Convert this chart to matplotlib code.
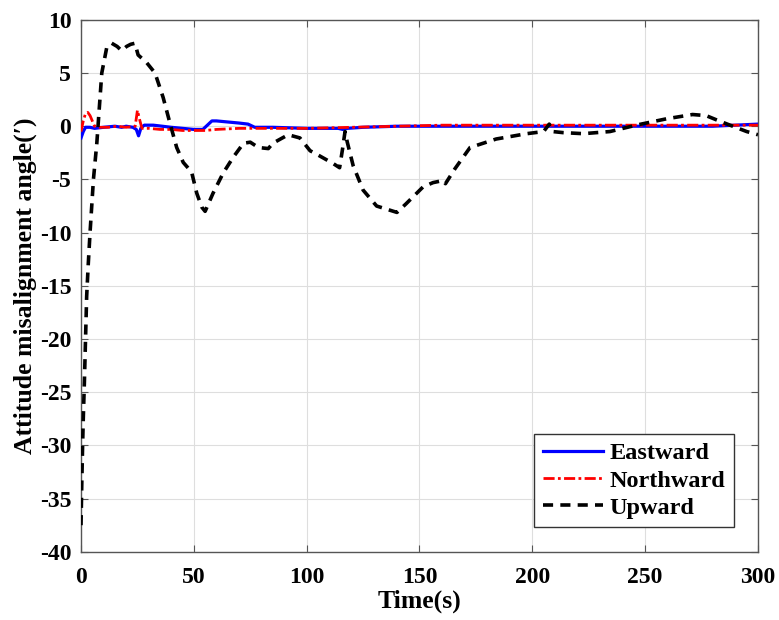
import matplotlib
matplotlib.use("Agg")
import matplotlib.pyplot as plt

# ---------------- data ----------------
t_up = [0, 0.3, 0.7, 1.0, 1.5, 2.0, 2.5, 3.2, 4.0, 5.5, 7, 9.2, 11.4, 13.6, 16, 18, 20.2, 22,
        23.9, 25.3, 29, 32.8, 36.4, 39.4, 42.4, 45.3, 49, 51.3, 53.5, 55, 58.5, 63, 67.5, 72,
        75, 78.6, 83, 85, 91.8, 97, 101.5, 105, 111.7, 114.6, 116, 117, 118, 120.6, 125, 131,
        140, 144, 151.6, 156, 160.5, 161.5, 165.7, 172.4, 184, 197.5, 205, 207.5, 209, 213.6,
        222.6, 234.4, 246, 259.5, 271, 277, 281.6, 287.6, 295, 300]
upward = [-37.5, -34, -30, -27.5, -24, -20, -16, -13, -10, -5, -1.6, 5, 7.4, 7.8, 7.5, 7.1,
          7.5, 7.7, 7.8, 6.7, 6.0, 5.0, 2.7, 0.3, -2, -3.4, -4.3, -6.3, -7.6, -8.0, -6.3, -4.4,
          -2.9, -1.6, -1.5, -2, -2.1, -1.6, -0.8, -1.1, -2.3, -2.7, -3.5, -3.9, -2.0, -0.5,
          -1.5, -3.7, -6, -7.5, -8.1, -7.3, -5.7, -5.3, -5.1, -5.4, -4, -2, -1.2, -0.7, -0.5,
          0.2, -0.5, -0.6, -0.7, -0.5, 0.1, 0.7, 1.1, 1.0, 0.6, 0.1, -0.5, -0.8]

t_east = [0, 1, 2, 4, 6, 10, 15, 18, 20, 23, 24.5, 25.5, 26.5, 28, 32, 36, 40, 45, 50, 54,
          56, 58, 60, 65, 70, 74, 77, 85, 100, 110, 114, 116, 118, 125, 140, 200, 250, 280, 300]
eastward = [-1.1, -0.5, -0.1, -0.1, -0.2, -0.1, 0.0, -0.1, 0.0, -0.1, -0.3, -0.9, -0.2, 0.1,
            0.1, 0.0, -0.1, -0.2, -0.3, -0.3, 0.1, 0.5, 0.5, 0.4, 0.3, 0.2, -0.1, -0.1, -0.2,
            -0.2, -0.2, -0.3, -0.2, -0.1, 0.0, 0.0, 0.0, 0.0, 0.2]

t_north = [0, 1, 2, 3, 4, 5, 6, 8, 12, 16, 20, 24, 25, 26, 27, 30, 35, 40, 45, 50, 55, 60,
           70, 80, 100, 120, 140, 160, 200, 250, 300]
northward = [-0.5, 0.5, 1.2, 1.3, 1.0, 0.5, 0.0, -0.1, -0.1, 0.0, -0.1, 0.0, 1.5, 0.6, -0.2,
             -0.2, -0.3, -0.3, -0.4, -0.4, -0.4, -0.3, -0.2, -0.2, -0.2, -0.1, 0.0, 0.1, 0.1,
             0.1, 0.1]

labels = ["Eastward", "Northward", "Upward"]
xticks = [0, 50, 100, 150, 200, 250, 300]
yticks = [-40, -35, -30, -25, -20, -15, -10, -5, 0, 5, 10]

# ---------------- plot ----------------
plt.rcParams['font.family'] = ['Liberation Serif', 'DejaVu Serif']
plt.rcParams['font.weight'] = 'bold'
plt.rcParams['axes.unicode_minus'] = False

fig = plt.figure(figsize=(7.79, 6.2), dpi=100)
ax = fig.add_axes([0.104, 0.110, 0.869, 0.858])

ax.plot(t_east, eastward, color='#0000ff', lw=2.3, label=labels[0], zorder=3)
ax.plot(t_north, northward, color='#ff0000', lw=2.0, dashes=[4, 1.2, 1, 1.2],
        label=labels[1], zorder=3)
ax.plot(t_up, upward, color='black', lw=2.6, dashes=[2.8, 2.0], label=labels[2], zorder=4)

ax.set_xlim(0, 300)
ax.set_ylim(-40, 10)
ax.set_xticks(xticks)
ax.set_yticks(yticks)
ax.grid(True, color='#dedede', lw=0.8)
ax.set_axisbelow(True)
ax.tick_params(direction='in', top=True, right=True, labelsize=17, length=5,
               color='#555555', width=0.8)
ax.tick_params(axis='x', pad=11)
ax.tick_params(axis='y', pad=7)
for lab in ax.get_xticklabels() + ax.get_yticklabels():
    lab.set_fontweight('bold')
for s in ax.spines.values():
    s.set_color('#555555')
    s.set_linewidth(1.0)

ax.set_xlabel("Time(s)", fontsize=18.5, fontweight='bold', labelpad=1)
ax.set_ylabel("Attitude misalignment angle(′)", fontsize=18.5, fontweight='bold', labelpad=2)

leg = ax.legend(loc='lower right', fontsize=17.5, fancybox=False, edgecolor='#333333',
                framealpha=1, handlelength=2.5, handletextpad=0.25, labelspacing=0.22,
                borderaxespad=1.0, borderpad=0.35)
leg.get_frame().set_linewidth(1.0)
for txt in leg.get_texts():
    txt.set_fontweight('bold')

fig.savefig("out.png", dpi=100)
